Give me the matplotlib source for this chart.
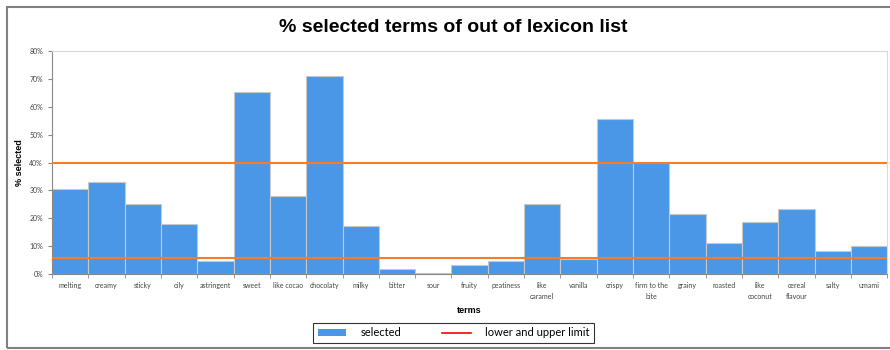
import numpy as np
import matplotlib.pyplot as plt
from matplotlib.patches import Patch, Rectangle
from matplotlib.lines import Line2D
from matplotlib.ticker import PercentFormatter

terms = ['melting', 'creamy', 'sticky', 'oily', 'astringent', 'sweet', 'like cocao',
         'chocolaty', 'milky', 'bitter', 'sour', 'fruity', 'peatiness', 'like\ncaramel',
         'vanilla', 'crispy', 'firm to the\nbite', 'grainy', 'roasted', 'like\ncoconut',
         'cereal\nflavour', 'salty', 'umami']
selected = [30.5, 33.1, 25.3, 17.8, 4.7, 65.3, 28.0,
            71.1, 17.2, 1.7, 0.2, 3.4, 4.6, 25.0,
            5.5, 55.7, 40.0, 21.4, 11.0, 18.6,
            23.5, 8.2, 9.9]
lower_limit = 5.7
upper_limit = 40.0

fig = plt.figure(figsize=(8.9, 3.5), dpi=100)
ax = fig.add_axes([0.0584, 0.217, 0.9386, 0.637])

x = np.arange(len(terms))
ax.bar(x, selected, width=1.0, color='#4a97e8', edgecolor='#c8c8c8', linewidth=0.8, zorder=2)
ax.axhline(upper_limit, color='#f57c28', linewidth=1.5, zorder=3)
ax.axhline(lower_limit, color='#f57c28', linewidth=1.5, zorder=3)

ax.set_xlim(-0.5, len(terms) - 0.5)
ax.set_ylim(0, 80)
ax.set_yticks(np.arange(0, 81, 10))
ax.yaxis.set_major_formatter(PercentFormatter(decimals=0))
ax.set_xticks(x)
ax.set_xticklabels(terms, fontsize=5, family='Lato', color='#444444', linespacing=1.6)
ax.set_xticks(np.arange(-0.5, len(terms), 1), minor=True)
ax.tick_params(axis='x', which='major', length=0, pad=6)
ax.tick_params(axis='x', which='minor', length=3, color='#888888')
ax.tick_params(axis='y', labelsize=5, length=3, color='#888888', labelcolor='#444444')
for lab in ax.get_yticklabels():
    lab.set_family('Lato')

for side in ['top', 'right']:
    ax.spines[side].set_color('#d9d9d9')
for side in ['left', 'bottom']:
    ax.spines[side].set_color('#888888')

ax.set_ylabel('% selected', fontsize=6.5, fontweight='bold', family='Liberation Sans', labelpad=4)
ax.set_xlabel('terms', fontsize=6.5, fontweight='bold', family='Liberation Sans', labelpad=4)

fig.text(0.509, 0.92, '% selected terms of out of lexicon list', ha='center', va='center',
         fontsize=14, fontweight='bold', family='Liberation Sans')

handles = [Patch(facecolor='#4a97e8', edgecolor='none'),
           Line2D([0], [0], color='#ff0000', linewidth=1.2)]
leg = fig.legend(handles, ['selected', 'lower and upper limit'], loc='center',
                 bbox_to_anchor=(0.5096, 0.049), ncol=2, frameon=True,
                 fancybox=False, edgecolor='#000000', handlelength=2.6, handleheight=0.5,
                 handletextpad=1.3, columnspacing=3.6, borderpad=0.4,
                 prop={'family': 'Lato', 'size': 8})
leg.get_frame().set_linewidth(0.8)

# outer chart border (right side runs off the image like the reference)
fig.patches.append(Rectangle((0.0084, 0.006), 1.1, 0.975, transform=fig.transFigure,
                             fill=False, edgecolor='#808080', linewidth=1.5))

fig.savefig('out.png', dpi=100)
